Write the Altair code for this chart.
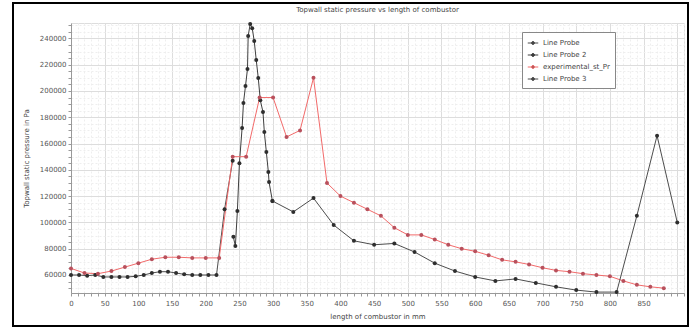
import altair as alt
import pandas as pd

series_names = ["Line Probe", "Line Probe 2", "experimental_st_Pr", "Line Probe 3"]

probe1_x = [0, 12, 24, 36, 48, 60, 72, 84, 96, 108, 120, 132, 144, 156, 168, 180, 192, 204, 216, 228, 240]
probe1_y = [60000, 60000, 59500, 60000, 58500, 58500, 58500, 58500, 59000, 60000, 61500, 62500, 62500,
            61500, 60500, 60000, 60000, 60000, 60000, 110000, 147000]

probe2_x = [241, 244, 247, 250, 254, 256, 259, 262, 263, 266, 269, 272, 275, 278, 281, 285, 287, 290, 293, 294, 299]
probe2_y = [89000, 82000, 108700, 145000, 171800, 190800, 203700, 216700, 241800, 250900, 247800, 238000,
            223500, 209800, 193000, 184000, 168700, 153500, 138300, 130700, 116300]

exp_x = [0, 20, 40, 60, 80, 100, 120, 140, 160, 180, 200, 220, 240, 260, 280, 300, 320, 340, 360, 380,
         400, 420, 440, 460, 480, 500, 520, 540, 560, 580, 600, 620, 640, 660, 680, 700, 720, 740, 760,
         780, 800, 820, 840, 860, 880]
exp_y = [65000, 61500, 61000, 63000, 66000, 69000, 72000, 73500, 73500, 73000, 73000, 73000, 150000,
         150000, 195000, 195000, 165000, 170000, 210000, 130000, 120000, 115000, 110000, 105000, 96000,
         90500, 90500, 87000, 83000, 80000, 78000, 75000, 71500, 70000, 68000, 65500, 63500, 62500,
         61000, 60000, 59000, 55500, 52500, 51000, 50000]

probe3_x = [299, 330, 360, 390, 420, 450, 480, 510, 540, 570, 600, 630, 660, 690, 720, 750, 780, 810,
            840, 870, 900]
probe3_y = [116300, 108000, 118500, 98000, 86000, 83000, 84000, 77500, 69000, 63000, 58500, 55500,
            57000, 54000, 51000, 48500, 47000, 47000, 105000, 166000, 100000]

line_colors = ["#4d4d4d", "#3f3f3f", "#f26a6a", "#4d4d4d"]
point_colors = ["#2e2e2e", "#2e2e2e", "#b8505c", "#2e2e2e"]

rows = []
for name, xs, ys in [(series_names[0], probe1_x, probe1_y), (series_names[1], probe2_x, probe2_y),
                     (series_names[2], exp_x, exp_y), (series_names[3], probe3_x, probe3_y)]:
    for i, (a, b) in enumerate(zip(xs, ys)):
        rows.append({"series": name, "x": a, "y": b, "i": i})
df = pd.DataFrame(rows)

x_ticks = list(range(0, 911, 10))
y_ticks = list(range(50000, 251001, 5000))

xscale = alt.Scale(domain=[0, 910], nice=False, zero=False)
yscale = alt.Scale(domain=[46300, 251700], nice=False, zero=False)

FONT = "DejaVu Sans"

xaxis = alt.Axis(
    title="length of combustor in mm", values=x_ticks, tickCount=1000,
    labelExpr="(datum.value % 50 === 0 && datum.value <= 850) ? datum.label : ''",
    labelOverlap=False, labelFlush=False,
    labelFontSize=7, labelColor="#555", labelFont=FONT,
    titleFontSize=7, titleColor="#444", titleFont=FONT, titleFontWeight="normal", titlePadding=6,
    domainColor="#999", tickColor="#999", tickSize=3, labelPadding=3,
    gridColor={"condition": {"test": "datum.value % 50 === 0", "value": "#dddddd"}, "value": "#eeeeee"},
    gridDash={"condition": {"test": "datum.value % 50 === 0", "value": []}, "value": [2, 2]},
)
yaxis = alt.Axis(
    title="Topwall static pressure in Pa", values=y_ticks, tickCount=1000,
    labelExpr="(datum.value % 20000 === 0 && datum.value >= 60000) ? datum.label : ''",
    format="d", labelOverlap=False, labelFlush=False,
    labelFontSize=7, labelColor="#555", labelFont=FONT,
    titleFontSize=7, titleColor="#444", titleFont=FONT, titleFontWeight="normal", titlePadding=10,
    domainColor="#999", tickColor="#999", tickSize=3, labelPadding=2,
    gridColor={"condition": {"test": "datum.value % 20000 === 0", "value": "#dddddd"}, "value": "#eeeeee"},
    gridDash={"condition": {"test": "datum.value % 20000 === 0", "value": []}, "value": [2, 2]},
)

legend_symbol = "M-1,0H1M-0.28,0a0.28,0.28 0 1,0 0.56,0a0.28,0.28 0 1,0 -0.56,0"

base = alt.Chart(df)

lines = base.mark_line(strokeWidth=1).encode(
    x=alt.X("x:Q", scale=xscale, axis=xaxis),
    y=alt.Y("y:Q", scale=yscale, axis=yaxis),
    color=alt.Color("series:N", scale=alt.Scale(domain=series_names, range=line_colors),
                    legend=alt.Legend(title=None, orient="none", legendX=451, legendY=9,
                                      symbolType=legend_symbol, symbolSize=110, symbolStrokeWidth=1,
                                      symbolFillColor="#333", labelFontSize=7, labelColor="#444",
                                      labelFont=FONT, rowPadding=2, padding=5, strokeColor="#888",
                                      fillColor="white", labelLimit=200)),
    detail="series:N",
    order="i:Q",
)

points = base.mark_circle(size=16, opacity=1).encode(
    x=alt.X("x:Q", scale=xscale, axis=xaxis),
    y=alt.Y("y:Q", scale=yscale, axis=yaxis),
    color=alt.Color("series:N", scale=alt.Scale(domain=series_names, range=point_colors), legend=None),
)

frame = alt.Chart(pd.DataFrame({"a": [0]})).mark_rect(filled=False, stroke="black", strokeWidth=2).encode(
    x=alt.value(-58), x2=alt.value(617), y=alt.value(-20), y2=alt.value(303)
)

chart = alt.layer(lines, points, frame).resolve_scale(color="independent").properties(
    width=613, height=270,
    title=alt.TitleParams("Topwall static pressure vs length of combustor", fontSize=7, color="#444",
                          font=FONT, fontWeight="normal", anchor="middle", offset=0, dy=11,
                          frame="group"),
    autosize=alt.AutoSizeParams(type="none"),
    padding={"left": 71, "top": 23, "right": 12, "bottom": 35},
).configure_view(stroke=None).configure(background="white")

chart.save("out.html", embed_options={"renderer": "svg", "actions": False})
